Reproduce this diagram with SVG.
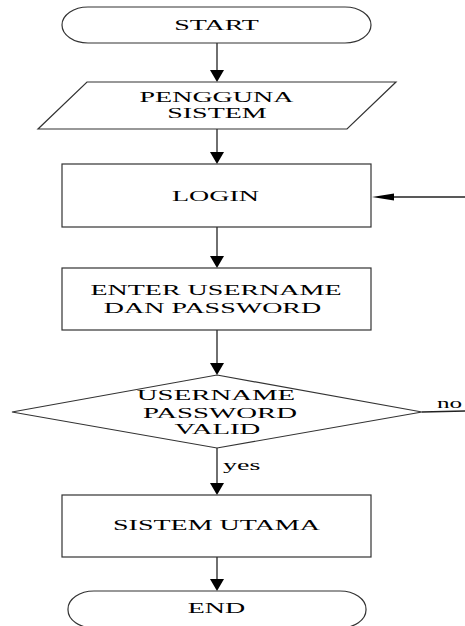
<svg xmlns="http://www.w3.org/2000/svg" width="465" height="626" viewBox="0 0 465 626">
<style>
.s{fill:#fff;stroke:#333;stroke-width:1.2}
.c{fill:none;stroke:#222;stroke-width:1.3}
.h{fill:#000;stroke:none}
text{font-family:"Liberation Serif","Times New Roman",serif;font-size:14px;fill:#000}
.m{text-anchor:middle}
.d{font-size:15px}
</style>
<rect width="465" height="626" fill="#fff"/>
<g id="connectors">
<line class="c" x1="217" y1="43" x2="217" y2="72"/>
<polygon class="h" points="210,70 224,70 217,82"/>
<line class="c" x1="217" y1="129" x2="217" y2="154"/>
<polygon class="h" points="210,152 224,152 217,164"/>
<line class="c" x1="217" y1="227" x2="217" y2="258"/>
<polygon class="h" points="210,256 224,256 217,268"/>
<line class="c" x1="217" y1="330" x2="217" y2="365"/>
<polygon class="h" points="210,363 224,363 217,375"/>
<line class="c" x1="217" y1="448" x2="217" y2="485"/>
<polygon class="h" points="210,483 224,483 217,495"/>
<line class="c" x1="217" y1="557" x2="217" y2="581"/>
<polygon class="h" points="210,579 224,579 217,591"/>
<line class="c" x1="422" y1="412" x2="465" y2="411"/>
<line class="c" x1="465" y1="197" x2="390" y2="197"/>
<polygon class="h" points="372,197 394,193.5 394,200.5"/>
<text transform="translate(223,470) scale(2,1)">yes</text>
<text transform="translate(437,408) scale(1.8,1)">no</text>
</g>
<g id="start">
<rect class="s" x="62" y="7" width="309" height="36" rx="26" ry="18"/>
<text class="m" transform="translate(216.5,30) scale(2,1)">START</text>
</g>
<g id="pengguna">
<polygon class="s" points="87,82 396,82 347,129 38,129"/>
<text class="m" transform="translate(216.5,102) scale(2,1)">PENGGUNA</text>
<text class="m" transform="translate(217,118) scale(2,1)">SISTEM</text>
</g>
<g id="login">
<rect class="s" x="62" y="164" width="309" height="63"/>
<text class="m" transform="translate(215.5,201) scale(2,1)">LOGIN</text>
</g>
<g id="enter">
<rect class="s" x="62" y="268" width="309" height="62"/>
<text class="m" transform="translate(216,295) scale(2,1)">ENTER USERNAME</text>
<text class="m" transform="translate(212.5,313) scale(2,1)">DAN PASSWORD</text>
</g>
<g id="valid">
<polygon class="s" points="217,375 422,412 217,448 12,412"/>
<text class="m d" transform="translate(216,400) scale(1.92,1)">USERNAME</text>
<text class="m d" transform="translate(220,418) scale(1.92,1)">PASSWORD</text>
<text class="m d" transform="translate(217.5,434) scale(1.92,1)">VALID</text>
</g>
<g id="utama">
<rect class="s" x="62" y="495" width="309" height="62"/>
<text class="m" transform="translate(216.5,530) scale(2,1)">SISTEM UTAMA</text>
</g>
<g id="end">
<rect class="s" x="68" y="591" width="298" height="37" rx="26" ry="18"/>
<text class="m" transform="translate(216.5,613) scale(2,1)">END</text>
</g>
</svg>
